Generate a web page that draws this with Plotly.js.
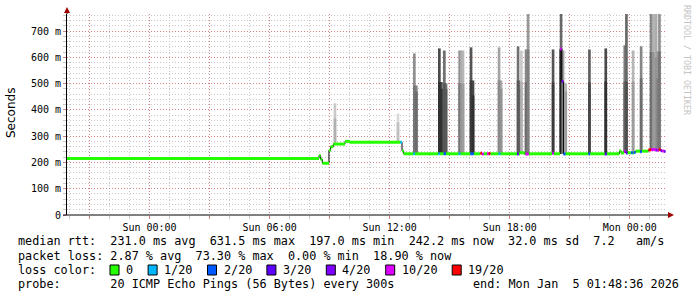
<!DOCTYPE html>
<html>
<head>
<meta charset="utf-8">
<script src="https://cdn.plot.ly/plotly-3.0.1.min.js"></script>
<style>html,body{margin:0;padding:0;background:#fff;}#chart{width:697px;height:297px;}</style>
</head>
<body>
<div id="chart"></div>
<script>
// ---------------- data ----------------
const timeStart = '2026-01-03 19:52:30';
const timeEnd = '2026-01-05 01:48:36';

// median RTT step points (ms) and lost pings (of 20) for the segment that starts there
const medianTime = [
  '2026-01-03 19:45','2026-01-04 08:28','2026-01-04 08:33','2026-01-04 08:38','2026-01-04 08:58',
  '2026-01-04 09:03','2026-01-04 09:11','2026-01-04 09:46','2026-01-04 10:01','2026-01-04 12:32',
  '2026-01-04 12:37','2026-01-04 12:42','2026-01-04 13:11','2026-01-04 13:16','2026-01-04 14:26',
  '2026-01-04 14:31','2026-01-04 14:42','2026-01-04 14:49','2026-01-04 15:27','2026-01-04 15:32',
  '2026-01-04 16:02','2026-01-04 16:12','2026-01-04 16:32','2026-01-04 16:37','2026-01-04 16:42',
  '2026-01-04 16:52','2026-01-04 16:57','2026-01-04 17:02','2026-01-04 17:27','2026-01-04 17:32',
  '2026-01-04 18:22','2026-01-04 18:27','2026-01-04 18:31','2026-01-04 18:44','2026-01-04 18:47',
  '2026-01-04 18:57','2026-01-04 20:07','2026-01-04 20:12','2026-01-04 20:31','2026-01-04 20:36',
  '2026-01-04 20:41','2026-01-04 20:47','2026-01-04 21:56','2026-01-04 22:01','2026-01-04 22:45',
  '2026-01-04 22:51','2026-01-04 23:29','2026-01-04 23:34','2026-01-04 23:43','2026-01-04 23:48',
  '2026-01-04 23:53','2026-01-05 00:04','2026-01-05 00:09','2026-01-05 00:12','2026-01-05 00:17',
  '2026-01-05 00:31','2026-01-05 00:36','2026-01-05 00:56','2026-01-05 01:04','2026-01-05 01:18',
  '2026-01-05 01:22','2026-01-05 01:27','2026-01-05 01:32','2026-01-05 01:37','2026-01-05 01:42',
  '2026-01-05 01:47'
];
const medianRtt = [
  215,226,212,197,246,
  260,270,280,277,277,
  244,233,233,233,233,
  233,233,233,233,233,
  233,233,235,232,233,
  233,234,233,233,233,
  232,233,237,233,232,
  233,235,233,631.5,508,
  232,233,233,233,232,
  233,244,236,243,236,
  237,237,236,238,243,
  241,243,248,249,247,
  246,249,245,244,242.2,
  242.2
];
const lostPings = [
  0,0,0,0,0,
  0,0,0,0,1,
  0,0,1,0,1,
  0,2,0,1,0,
  2,0,19,10,0,
  10,19,0,1,0,
  3,0,0,0,10,
  0,10,0,10,4,
  2,0,2,0,3,
  0,0,0,10,3,
  0,2,0,2,0,
  2,0,19,10,4,
  10,19,4,10,4,
  4
];

// smoke: per 5-minute slot, lowest ping, upper-quartile ping, highest ping (ms), and ping density 0..1
const smokeTime = [
  '2026-01-04 09:16','2026-01-04 12:25','2026-01-04 13:14','2026-01-04 13:20','2026-01-04 14:29',
  '2026-01-04 14:35','2026-01-04 14:44','2026-01-04 14:49','2026-01-04 15:30','2026-01-04 15:35',
  '2026-01-04 15:40','2026-01-04 16:04','2026-01-04 16:10','2026-01-04 17:28','2026-01-04 17:34',
  '2026-01-04 18:25','2026-01-04 18:30','2026-01-04 18:35','2026-01-04 18:49','2026-01-04 18:55',
  '2026-01-04 20:10','2026-01-04 20:34','2026-01-04 20:40','2026-01-04 20:48','2026-01-04 21:59',
  '2026-01-04 22:48','2026-01-04 23:45','2026-01-04 23:50','2026-01-05 00:10','2026-01-05 00:34',
  '2026-01-05 01:04','2026-01-05 01:10','2026-01-05 01:14','2026-01-05 01:19','2026-01-05 01:24',
  '2026-01-05 01:29'
];
const smokeLow = [
  271,277,233,233,233, 233,233,233,233,233, 233,233,233,233,233, 233,233,236,233,233,
  233,233,233,233,233, 233,236,236,237,240, 248,248,248,248,248, 248
];
const smokeMid = [
  367,352,493,470,506, 480,501,480,501,501, 501,512,455,512,480, 512,480,508,505,630,
  505,634,505,470,505, 508,508,508,508,520, 620,620,600,600,520, 623
];
const smokeHigh = [
  425,386,615,493,634, 506,626,501,626,626, 626,638,512,638,512, 642,512,626,630,765,
  630,765,626,501,630, 634,646,765,626,642, 765,765,765,765,623, 765
];
const smokeDensity = [
  0.2,0.12,0.5,0.55,0.85, 0.85,0.65,0.65,0.5,0.35, 0.3,0.8,0.85,0.4,0.35, 0.65,0.6,0.2,0.55,0.45,
  0.8,0.7,0.4,0.3,0.75, 0.85,0.6,0.7,0.3,0.55, 0.55,0.35,0.3,0.35,0.45, 0.5
];

// loss colour legend
const lossThreshold = [0,1,2,3,4,10,19];
const lossLabel = ['0','1/20','2/20','3/20','4/20','10/20','19/20'];
const lossColor = ['#26ff00','#00b8ff','#0059ff','#5e00ff','#7e00ff','#dd00ff','#ff0000'];

// axis ticks
const xTickVals = [
  '2026-01-03 21:00','2026-01-04 00:00','2026-01-04 03:00','2026-01-04 06:00','2026-01-04 09:00',
  '2026-01-04 12:00','2026-01-04 15:00','2026-01-04 18:00','2026-01-04 21:00','2026-01-05 00:00'
];
const xTickText = ['','Sun 00:00','','Sun 06:00','','Sun 12:00','','Sun 18:00','','Mon 00:00'];
const yTickVals = [0,100,200,300,400,500,600,700];
const yTickText = ['0','100 m','200 m','300 m','400 m','500 m','600 m','700 m'];

// legend texts
const rttStats = ['231.0 ms avg','631.5 ms max','197.0 ms min','242.2 ms now','32.0 ms sd','7.2   am/s'];
const lossStats = ['2.87 % avg','73.30 % max','0.00 % min','18.90 % now'];
const probeText = '20 ICMP Echo Pings (56 Bytes) every 300s';
const endText = 'end: Mon Jan  5 01:48:36 2026';

// ---------------- drawing ----------------
const L = 67, T = 14, W = 599, H = 201;
const px = v => (v - L) / W;
const py = v => (T + H - v) / H;
const nb = s => s.replace(/ /g, '\u00A0');
const MONO = 'DejaVu Sans Mono';

function bucketOf(n) { let b = 0; lossThreshold.forEach((t, i) => { if (n >= t) b = i; }); return b; }
function grey(g) { g = Math.max(0, Math.min(255, Math.round(g))); return 'rgb(' + g + ',' + g + ',' + g + ')'; }

const SLOT = 480000; // drawn width of one smoke slot
const traces = [];
traces.push({
  type: 'bar', x: smokeTime, base: smokeLow,
  y: smokeHigh.map((v, i) => v - smokeLow[i]),
  width: SLOT,
  marker: { color: smokeDensity.map(d => grey(240 - 195 * d)), line: { width: 0 } },
  hoverinfo: 'skip', showlegend: false
});
traces.push({
  type: 'bar', x: smokeTime, base: smokeLow,
  y: smokeMid.map((v, i) => v - smokeLow[i]),
  width: SLOT,
  marker: { color: smokeDensity.map(d => grey(215 - 195 * d)), line: { width: 0 } },
  hoverinfo: 'skip', showlegend: false
});
traces.push({
  type: 'scatter', mode: 'lines', x: medianTime, y: medianRtt,
  line: { shape: 'hv', color: '#000', width: 1 }, hoverinfo: 'skip', showlegend: false
});
lossColor.forEach((col, b) => {
  const xs = [], ys = [];
  for (let i = 0; i < medianTime.length - 1; i++) {
    if (bucketOf(lostPings[i]) !== b) continue;
    xs.push(medianTime[i], medianTime[i + 1], null);
    ys.push(medianRtt[i], medianRtt[i], null);
  }
  traces.push({
    type: 'scatter', mode: 'lines', x: xs, y: ys, connectgaps: false,
    line: { color: col, width: 3 }, hoverinfo: 'skip', showlegend: false
  });
});

const annotations = [];
annotations.push({
  xref: 'paper', yref: 'paper', x: px(11), y: py(113), text: 'Seconds', showarrow: false,
  textangle: -90, font: { family: 'DejaVu Sans', size: 12, color: '#000' }, xanchor: 'center', yanchor: 'middle'
});
annotations.push({
  xref: 'paper', yref: 'paper', x: px(687), y: py(60), text: nb('RRDTOOL / TOBI OETIKER'), showarrow: false,
  textangle: 90, font: { family: MONO, size: 8.3, color: '#c4c4c4' }, xanchor: 'center', yanchor: 'middle'
});
function txt(x, y, s, anchor) {
  annotations.push({
    xref: 'paper', yref: 'paper', x: px(x), y: py(y), text: nb(s), showarrow: false,
    xanchor: anchor || 'left', yanchor: 'middle', font: { family: MONO, size: 11.8, color: '#000' }
  });
}
txt(16, 241, 'median rtt:  ' + rttStats.join('  '));
txt(16, 256, 'packet loss: ' + lossStats.join('  '));
txt(16, 270, 'loss color:');
txt(16, 284, 'probe:       ' + probeText);
txt(681, 284, endText, 'right');

const shapes = [];
let bx = 110;
lossLabel.forEach((lab, i) => {
  shapes.push({
    type: 'rect', xref: 'paper', yref: 'paper', x0: px(bx), x1: px(bx + 9), y0: py(275), y1: py(265),
    fillcolor: lossColor[i], line: { color: '#000', width: 1 }
  });
  txt(bx + 14, 270, lab);
  bx += 14 + lab.length * 7.1 + 17;
});
shapes.push({ type: 'line', xref: 'paper', yref: 'paper', x0: px(67), x1: px(67), y0: py(T), y1: py(10), line: { color: '#000', width: 1 } });
shapes.push({ type: 'path', xref: 'paper', yref: 'paper',
  path: 'M' + px(64) + ',' + py(13) + ' L' + px(67) + ',' + py(7) + ' L' + px(70) + ',' + py(13) + ' Z',
  fillcolor: '#a00000', line: { width: 0 } });
shapes.push({ type: 'line', xref: 'paper', yref: 'paper', x0: px(63), x1: px(670), y0: py(215), y1: py(215), line: { color: '#000', width: 1 } });
shapes.push({ type: 'path', xref: 'paper', yref: 'paper',
  path: 'M' + px(668) + ',' + py(212) + ' L' + px(674) + ',' + py(215) + ' L' + px(668) + ',' + py(218) + ' Z',
  fillcolor: '#a00000', line: { width: 0 } });

const gridDash = '1px,2px';
const layout = {
  width: 697, height: 297,
  margin: { l: L, r: 697 - L - W, t: T, b: 297 - T - H, pad: 0 },
  paper_bgcolor: '#ffffff', plot_bgcolor: '#ffffff',
  barmode: 'overlay', showlegend: false,
  font: { family: MONO, size: 10, color: '#000' },
  xaxis: {
    type: 'date', range: [timeStart, timeEnd], fixedrange: true,
    tickmode: 'array', tickvals: xTickVals, ticktext: xTickText,
    tickfont: { family: MONO, size: 10, color: '#000' },
    showgrid: true, gridcolor: 'rgba(222,80,80,0.6)', griddash: gridDash, gridwidth: 1,
    ticks: 'outside', ticklen: 3, tickcolor: 'rgba(222,80,80,0.6)',
    minor: { tickmode: 'linear', tick0: '2026-01-04 00:00', dtick: 3600000, showgrid: true,
      gridcolor: '#c8c8c8', griddash: gridDash, ticks: 'outside', ticklen: 3, tickcolor: '#c8c8c8' },
    showline: false, zeroline: false
  },
  yaxis: {
    range: [0, 765], fixedrange: true,
    tickmode: 'array', tickvals: yTickVals, ticktext: yTickText,
    tickfont: { family: MONO, size: 10, color: '#000' },
    showgrid: true, gridcolor: 'rgba(222,80,80,0.6)', griddash: gridDash, gridwidth: 1,
    ticks: 'outside', ticklen: 3, tickcolor: 'rgba(222,80,80,0.6)',
    minor: { tickmode: 'linear', tick0: 0, dtick: 20, showgrid: true,
      gridcolor: '#c8c8c8', griddash: gridDash, ticks: 'outside', ticklen: 3, tickcolor: '#c8c8c8' },
    showline: true, linecolor: '#000', linewidth: 1, zeroline: false
  },
  annotations: annotations,
  shapes: shapes
};

Plotly.newPlot('chart', traces, layout, { staticPlot: true, displayModeBar: false });
</script>
</body>
</html>
